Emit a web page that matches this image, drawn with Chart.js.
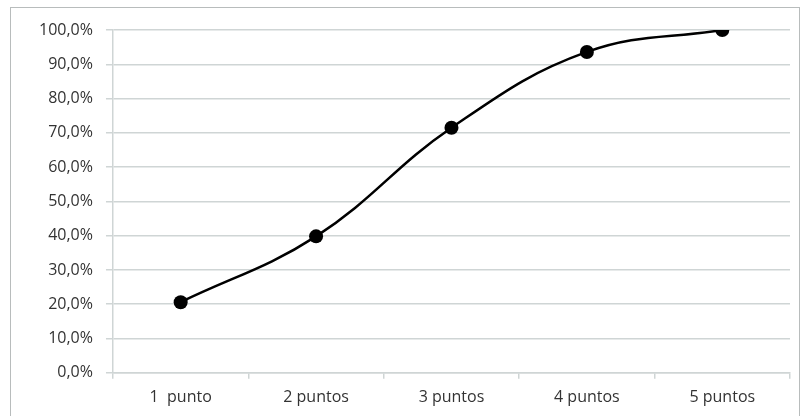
<!DOCTYPE html>
<html>
<head>
<meta charset="utf-8">
<script src="https://cdn.jsdelivr.net/npm/chart.js@4.4.1/dist/chart.umd.min.js"></script>
<style>
  html, body { margin: 0; padding: 0; background: #fff; overflow: hidden; }
  #frame { position: absolute; left: 10px; top: 7px; width: 788px; height: 420px; border: 1px solid #b8bcbc; }
  #wrap { position: absolute; left: 0; top: 0; width: 804px; height: 416px; }
</style>
</head>
<body>
<div id="frame"></div>
<div id="wrap"><canvas id="puntosChart"></canvas></div>
<script>
// categorías y valores (%)
const categories = ['1  punto', '2 puntos', '3 puntos', '4 puntos', '5 puntos'];
const values = [20.6, 39.8, 71.5, 93.6, 100.0];
const yTicks = [0, 10, 20, 30, 40, 50, 60, 70, 80, 90, 100];

const fontName = 'Open Sans';
const gridColor = '#cfd5d5';

const ctx = document.getElementById('puntosChart');
new Chart(ctx.getContext('2d'), {
    type: 'line',
    data: {
        labels: categories,
        datasets: [{
            data: values,
            borderColor: '#000000',
            backgroundColor: '#000000',
            borderWidth: 2.5,
            pointRadius: 7,
            pointHoverRadius: 7,
            pointBackgroundColor: '#000000',
            pointBorderWidth: 0,
            tension: 0.4,
            fill: false
        }]
    },
    options: {
        responsive: true,
        maintainAspectRatio: false,
        animation: false,
        layout: { padding: { left: 26, right: 14, top: 30, bottom: 0 } },
        plugins: {
            legend: { display: false },
            tooltip: { enabled: false }
        },
        scales: {
            y: {
                min: 0,
                max: 100,
                afterBuildTicks: axis => { axis.ticks = yTicks.map(v => ({ value: v })); },
                grid: { color: gridColor, lineWidth: 1.5, tickLength: 7 },
                border: { color: gridColor, width: 1.5 },
                ticks: {
                    color: '#333333',
                    padding: 13,
                    font: { family: fontName, size: 16 },
                    callback: v => v.toFixed(1).replace('.', ',') + '%'
                }
            },
            x: {
                offset: true,
                grid: { offset: true, drawOnChartArea: false, color: gridColor, lineWidth: 1.5, tickLength: 6 },
                border: { color: gridColor, width: 1.5 },
                ticks: {
                    color: '#333333',
                    padding: 9,
                    maxRotation: 0,
                    font: { family: fontName, size: 16 }
                }
            }
        }
    }
});
</script>
</body>
</html>
